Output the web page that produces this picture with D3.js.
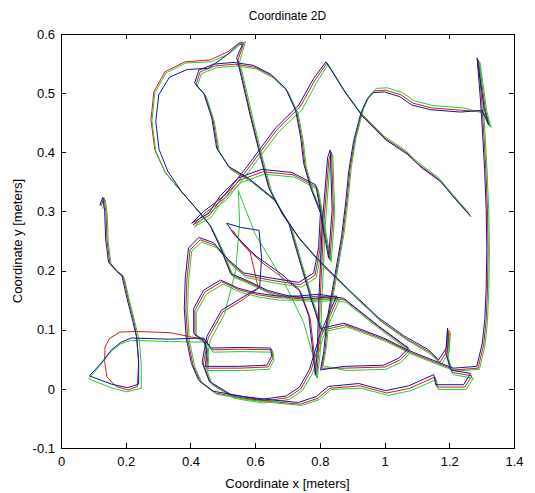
<!DOCTYPE html>
<html>
<head>
<meta charset="utf-8">
<script src="https://cdn.jsdelivr.net/npm/d3@7"></script>
<style>
  body { margin: 0; background: #fff; }
  svg text { font-family: "Liberation Sans", Arial, sans-serif; fill: #000; }
</style>
</head>
<body>
<div id="chart"></div>
<script>
// tick labels
var xTicks = [0, 0.2, 0.4, 0.6, 0.8, 1, 1.2, 1.4];
var yTicks = [-0.1, 0, 0.1, 0.2, 0.3, 0.4, 0.5, 0.6];

// trajectories, [x, y] in meters
var redPath = [
  [1.264,0.294],[1.217,0.323],[1.171,0.353],[1.109,0.378],[1.069,0.399],[1.001,0.424],[0.930,0.463],[0.878,0.502],[0.822,0.551],[0.785,0.522],[0.739,0.477],[0.667,0.438],[0.575,0.370],[0.507,0.323],[0.445,0.297],[0.408,0.277],
  [0.460,0.294],[0.497,0.323],[0.553,0.353],[0.624,0.367],[0.717,0.362],[0.791,0.341],[0.806,0.297],[0.800,0.235],[0.785,0.192],[0.739,0.176],[0.646,0.184],[0.569,0.192],[0.522,0.214],[0.476,0.243],[0.430,0.252],
  [0.399,0.235],[0.389,0.184],[0.386,0.133],[0.392,0.083],[0.408,0.040],[0.430,0.012],[0.476,-0.007],[0.569,-0.016],[0.661,-0.022],[0.739,-0.026],[0.794,-0.016],[0.831,0.001],
  [0.924,0.005],[1.007,-0.007],[1.078,0.001],[1.156,0.020],[1.162,0.003],[1.248,0.003],[1.270,0.022],[1.208,0.028],[1.193,0.057],[1.199,0.099],[1.196,0.066],[1.171,0.045],[1.140,0.062],
  [1.063,0.086],[0.986,0.116],[0.893,0.164],[0.800,0.214],[0.739,0.252],[0.686,0.294],[0.646,0.336],[0.621,0.387],[0.590,0.455],[0.562,0.522],[0.547,0.556],[0.565,0.585],[0.553,0.586],[0.516,0.570],[0.460,0.556],[0.383,0.553],[0.321,0.536],[0.287,0.502],[0.278,0.455],[0.290,0.404],[0.321,0.367],[0.368,0.336],[0.423,0.302],[0.460,0.277],[0.497,0.235],[0.528,0.192],[0.584,0.179],[0.640,0.164],[0.708,0.154],[0.785,0.150],[0.856,0.154],
  [0.805,0.090],[0.772,0.030],[0.741,0.000],[0.700,-0.015],[0.620,-0.021],[0.530,-0.013],[0.462,0.010],[0.440,0.042],[0.455,0.086],[0.500,0.130],[0.560,0.150],[0.610,0.170],[0.585,0.230],[0.530,0.268],[0.560,0.245],[0.620,0.214],[0.680,0.190],[0.740,0.165],[0.770,0.120],[0.784,0.052],[0.790,0.020],[0.796,0.062],[0.801,0.150],[0.812,0.280],[0.828,0.388],[0.836,0.400],[0.842,0.300],
  [0.831,0.218],[0.806,0.294],[0.776,0.336],[0.754,0.378],[0.745,0.421],[0.729,0.468],[0.698,0.505],[0.652,0.529],[0.599,0.544],[0.538,0.549],[0.476,0.546],[0.430,0.536],[0.417,0.514],[0.445,0.497],[0.470,0.455],[0.485,0.404],[0.522,0.373],[0.584,0.353],[0.661,0.319],[0.708,0.277],[0.739,0.218],[0.776,0.150],[0.806,0.099],[0.878,0.108],[0.924,0.099],[1.001,0.083],[1.078,0.062],
  [1.156,0.045],[1.217,0.032],[1.289,0.035],[1.306,0.074],[1.314,0.116],[1.318,0.167],[1.320,0.235],[1.318,0.302],[1.313,0.370],[1.306,0.438],[1.300,0.488],[1.290,0.556],[1.298,0.526],[1.312,0.471],[1.325,0.444],[1.305,0.468],[1.239,0.471],[1.146,0.475],[1.088,0.483],[1.051,0.497],[1.004,0.505],[0.970,0.504],[0.949,0.492],[0.930,0.468],[0.908,0.421],[0.893,0.370],[0.884,0.319],[0.871,0.260],[0.847,0.184],[0.825,0.116],[0.816,0.066],[0.806,0.035],
  [0.878,0.035],[1.001,0.037],[1.048,0.049],[1.078,0.066],[0.986,0.103],[0.878,0.150],[0.800,0.157],[0.739,0.154],[0.671,0.154],[0.609,0.159],[0.553,0.167],[0.497,0.181],[0.445,0.164],[0.414,0.133],[0.414,0.091],[0.445,0.079],
  [0.454,0.062],[0.451,0.035],[0.553,0.035],[0.640,0.037],[0.655,0.052],[0.652,0.066],[0.553,0.067],[0.467,0.066],[0.445,0.083],
  [0.337,0.095],[0.230,0.097],[0.182,0.096],[0.150,0.085],[0.136,0.071],[0.135,0.045],[0.142,0.020],[0.170,0.004],[0.207,-0.002],[0.236,0.004],[0.240,0.045],[0.234,0.086],[0.226,0.113],[0.207,0.154],[0.192,0.191],[0.176,0.198],[0.151,0.213],[0.142,0.252],[0.139,0.299],[0.133,0.323],[0.124,0.309]
];

var greenPath = [
  [1.260,0.298],[1.213,0.327],[1.167,0.357],[1.105,0.382],[1.065,0.403],[0.997,0.428],[0.926,0.467],[0.874,0.506],[0.826,0.549],[0.790,0.518],[0.745,0.472],[0.672,0.434],[0.580,0.367],[0.512,0.320],[0.450,0.294],[0.412,0.274],
  [0.464,0.290],[0.501,0.319],[0.557,0.349],[0.628,0.363],[0.721,0.358],[0.795,0.337],[0.810,0.293],[0.804,0.231],[0.789,0.188],[0.743,0.172],[0.650,0.180],[0.573,0.188],[0.526,0.210],[0.480,0.239],[0.434,0.248],
  [0.404,0.233],[0.394,0.182],[0.391,0.131],[0.397,0.081],[0.413,0.038],[0.435,0.010],[0.481,-0.009],[0.574,-0.018],[0.666,-0.024],[0.744,-0.028],[0.799,-0.018],[0.836,-0.001],
  [0.928,0.001],[1.011,-0.011],[1.082,-0.003],[1.160,0.016],[1.166,-0.001],[1.252,-0.001],[1.274,0.018],[1.212,0.024],[1.197,0.053],[1.203,0.095],[1.200,0.062],[1.175,0.041],[1.144,0.058],
  [1.068,0.083],[0.991,0.113],[0.898,0.161],[0.805,0.211],[0.744,0.249],[0.691,0.291],[0.651,0.333],[0.626,0.384],[0.595,0.452],[0.567,0.519],[0.552,0.553],[0.570,0.587],[0.558,0.584],[0.521,0.567],[0.464,0.553],[0.386,0.551],[0.324,0.534],[0.290,0.500],[0.281,0.453],[0.293,0.402],[0.324,0.364],[0.372,0.333],[0.428,0.299],[0.465,0.274],[0.502,0.232],[0.533,0.189],[0.589,0.176],[0.645,0.161],[0.713,0.151],[0.790,0.147],[0.861,0.151],
  [0.810,0.087],[0.778,0.027],[0.746,-0.003],[0.705,-0.018],[0.625,-0.024],[0.535,-0.016],[0.467,0.007],[0.446,0.040],[0.462,0.083],[0.505,0.126],[0.540,0.200],[0.552,0.280],[0.548,0.335],[0.600,0.262],[0.690,0.180],[0.750,0.112],[0.778,0.058],[0.792,0.018],[0.801,0.060],[0.806,0.148],[0.817,0.278],[0.832,0.385],[0.840,0.396],[0.846,0.298],
  [0.835,0.215],[0.810,0.291],[0.780,0.333],[0.758,0.375],[0.749,0.418],[0.733,0.465],[0.702,0.502],[0.656,0.526],[0.603,0.541],[0.542,0.546],[0.480,0.543],[0.434,0.533],[0.421,0.511],[0.449,0.494],[0.474,0.452],[0.489,0.401],[0.526,0.370],[0.588,0.350],[0.665,0.316],[0.712,0.274],[0.743,0.215],[0.780,0.147],[0.810,0.096],[0.882,0.105],[0.928,0.096],[1.005,0.080],[1.082,0.059],
  [1.160,0.042],[1.221,0.030],[1.293,0.033],[1.310,0.072],[1.318,0.114],[1.322,0.165],[1.324,0.233],[1.322,0.300],[1.317,0.368],[1.310,0.436],[1.304,0.486],[1.294,0.553],[1.302,0.524],[1.316,0.469],[1.329,0.442],[1.309,0.466],[1.243,0.475],[1.150,0.479],[1.092,0.487],[1.055,0.501],[1.008,0.509],[0.974,0.508],[0.953,0.496],[0.934,0.472],[0.912,0.425],[0.897,0.374],[0.888,0.323],[0.875,0.264],[0.851,0.188],[0.829,0.120],[0.820,0.070],[0.810,0.039],
  [0.881,0.031],[1.004,0.033],[1.051,0.045],[1.081,0.062],[0.990,0.099],[0.882,0.146],[0.804,0.153],[0.743,0.150],[0.675,0.150],[0.613,0.155],[0.557,0.163],[0.501,0.177],[0.449,0.160],[0.418,0.129],[0.418,0.087],[0.449,0.075],
  [0.457,0.058],[0.454,0.031],[0.556,0.031],[0.643,0.033],[0.658,0.048],[0.655,0.062],[0.556,0.063],[0.470,0.062],[0.448,0.079],
  [0.333,0.080],[0.215,0.082],[0.184,0.076],[0.154,0.063],[0.123,0.041],[0.086,0.017],[0.154,0.002],[0.203,-0.005],[0.248,0.001],[0.248,0.041],[0.242,0.082],[0.230,0.109],[0.211,0.150],[0.196,0.187],[0.180,0.194],[0.155,0.209],[0.146,0.248],[0.143,0.295],[0.137,0.319],[0.128,0.305]
];

var bluePath = [
  [1.267,0.291],[1.220,0.320],[1.174,0.350],[1.112,0.375],[1.072,0.396],[1.004,0.421],[0.933,0.460],[0.881,0.499],[0.819,0.553],[0.781,0.525],[0.735,0.480],[0.663,0.441],[0.571,0.373],[0.503,0.326],[0.441,0.300],[0.404,0.280],
  [0.456,0.297],[0.493,0.327],[0.549,0.357],[0.620,0.371],[0.713,0.366],[0.787,0.345],[0.802,0.301],[0.796,0.239],[0.781,0.196],[0.735,0.180],[0.642,0.188],[0.565,0.196],[0.518,0.218],[0.472,0.247],[0.426,0.256],
  [0.394,0.238],[0.384,0.187],[0.381,0.136],[0.387,0.086],[0.403,0.043],[0.425,0.015],[0.471,-0.004],[0.564,-0.013],[0.656,-0.019],[0.734,-0.023],[0.789,-0.013],[0.826,0.004],
  [0.920,0.009],[1.003,-0.003],[1.074,0.005],[1.152,0.024],[1.158,0.007],[1.244,0.007],[1.266,0.026],[1.204,0.032],[1.189,0.061],[1.195,0.103],[1.192,0.070],[1.167,0.049],[1.136,0.066],
  [1.059,0.090],[0.982,0.120],[0.889,0.168],[0.796,0.218],[0.735,0.256],[0.682,0.298],[0.642,0.340],[0.617,0.391],[0.586,0.459],[0.558,0.526],[0.543,0.560],[0.561,0.583],[0.549,0.583],[0.512,0.564],[0.455,0.542],[0.390,0.540],[0.335,0.527],[0.302,0.497],[0.293,0.452],[0.303,0.405],[0.330,0.368],[0.372,0.334],[0.425,0.300],[0.462,0.275],[0.493,0.238],[0.524,0.195],[0.580,0.182],[0.636,0.167],[0.704,0.157],[0.781,0.153],[0.852,0.157],
  [0.801,0.093],[0.768,0.033],[0.737,0.003],[0.696,-0.012],[0.616,-0.018],[0.526,-0.010],[0.458,0.013],[0.436,0.045],[0.451,0.089],[0.496,0.133],[0.556,0.153],[0.614,0.172],[0.620,0.222],[0.612,0.268],[0.555,0.273],[0.512,0.280],[0.535,0.261],[0.604,0.224],[0.684,0.193],[0.736,0.168],[0.766,0.123],[0.780,0.055],[0.786,0.023],[0.792,0.065],[0.797,0.153],[0.808,0.283],[0.824,0.391],[0.832,0.404],[0.838,0.303],
  [0.827,0.221],[0.802,0.297],[0.772,0.339],[0.750,0.381],[0.741,0.424],[0.725,0.471],[0.694,0.508],[0.648,0.532],[0.595,0.547],[0.534,0.552],[0.472,0.549],[0.426,0.539],[0.413,0.517],[0.441,0.500],[0.466,0.458],[0.481,0.407],[0.518,0.376],[0.580,0.356],[0.657,0.322],[0.704,0.280],[0.735,0.221],[0.772,0.153],[0.802,0.102],[0.874,0.111],[0.920,0.102],[0.997,0.086],[1.074,0.065],
  [1.152,0.048],[1.213,0.035],[1.285,0.038],[1.302,0.077],[1.310,0.119],[1.314,0.170],[1.316,0.238],[1.314,0.305],[1.309,0.373],[1.302,0.441],[1.296,0.491],[1.286,0.559],[1.294,0.529],[1.308,0.474],[1.321,0.447],[1.301,0.471],[1.235,0.468],[1.142,0.472],[1.084,0.480],[1.047,0.494],[1.000,0.502],[0.966,0.501],[0.945,0.489],[0.926,0.465],[0.904,0.418],[0.889,0.367],[0.880,0.316],[0.867,0.257],[0.843,0.181],[0.821,0.113],[0.812,0.063],[0.802,0.032],
  [0.874,0.038],[0.997,0.040],[1.044,0.052],[1.074,0.069],[0.982,0.106],[0.874,0.153],[0.796,0.160],[0.735,0.157],[0.667,0.157],[0.605,0.162],[0.549,0.170],[0.493,0.184],[0.441,0.167],[0.410,0.136],[0.410,0.094],[0.441,0.082],
  [0.450,0.065],[0.447,0.038],[0.549,0.038],[0.636,0.040],[0.651,0.055],[0.648,0.069],[0.549,0.070],[0.463,0.069],[0.441,0.086],
  [0.335,0.084],[0.217,0.086],[0.186,0.079],[0.156,0.066],[0.125,0.044],[0.088,0.022],[0.156,0.008],[0.205,0.002],[0.240,0.008],[0.240,0.045],[0.234,0.087],[0.222,0.114],[0.203,0.155],[0.188,0.192],[0.172,0.199],[0.147,0.214],[0.138,0.253],[0.135,0.300],[0.129,0.324],[0.120,0.310]
];

drawChart();

function drawChart() {
  var width = 535,
    height = 493;
  var plotLeft = 61, plotRight = 514, plotTop = 34, plotBottom = 448;

  var svg = d3.select("#chart")
    .append("svg")
      .attr("width", width)
      .attr("height", height);

  var x = d3.scaleLinear().domain([0, 1.4]).range([plotLeft, plotRight]);
  var y = d3.scaleLinear().domain([-0.1, 0.6]).range([plotBottom, plotTop]);

  var line = d3.line()
    .x(function(d) { return x(d[0]); })
    .y(function(d) { return y(d[1]); });

  // the three runs, plotted in matlab order
  var runs = [
    { path: redPath, color: "#d01c1c" },
    { path: greenPath, color: "#2ec72e" },
    { path: bluePath, color: "#141496" }
  ];

  svg.append("g")
    .selectAll("path")
    .data(runs)
    .enter()
      .append("path")
      .attr("d", function(d) { return line(d.path); })
      .attr("fill", "none")
      .attr("stroke", function(d) { return d.color; })
      .attr("stroke-width", 1)
      .attr("stroke-linejoin", "round");

  // axes, ticks inside like matlab
  function fmt(d) { return String(d); }

  svg.append("g")
    .attr("transform", "translate(0," + plotBottom + ")")
    .call(d3.axisBottom(x).tickValues(xTicks).tickFormat(fmt).tickSizeInner(-5).tickSizeOuter(0).tickPadding(9));

  svg.append("g")
    .attr("transform", "translate(" + plotLeft + ",0)")
    .call(d3.axisLeft(y).tickValues(yTicks).tickFormat(fmt).tickSizeInner(-5).tickSizeOuter(0).tickPadding(6));

  svg.append("g")
    .attr("transform", "translate(0," + plotTop + ")")
    .call(d3.axisTop(x).tickValues(xTicks).tickFormat("").tickSizeInner(-5).tickSizeOuter(0));

  svg.append("g")
    .attr("transform", "translate(" + plotRight + ",0)")
    .call(d3.axisRight(y).tickValues(yTicks).tickFormat("").tickSizeInner(-5).tickSizeOuter(0));

  svg.selectAll(".domain, .tick line")
    .attr("stroke", "#000")
    .attr("shape-rendering", "crispEdges");

  svg.selectAll(".tick text")
    .attr("font-size", 13)
    .attr("font-family", "'Liberation Sans', Arial, sans-serif");

  svg.append("text")
    .attr("x", (plotLeft + plotRight) / 2)
    .attr("y", 20)
    .attr("text-anchor", "middle")
    .attr("font-size", 12)
    .text("Coordinate 2D");

  svg.append("text")
    .attr("x", (plotLeft + plotRight) / 2)
    .attr("y", 488)
    .attr("text-anchor", "middle")
    .attr("font-size", 13)
    .text("Coordinate x [meters]");

  svg.append("text")
    .attr("transform", "translate(22," + ((plotTop + plotBottom) / 2) + ") rotate(-90)")
    .attr("text-anchor", "middle")
    .attr("font-size", 13)
    .text("Coordinate y [meters]");
}
</script>
</body>
</html>
